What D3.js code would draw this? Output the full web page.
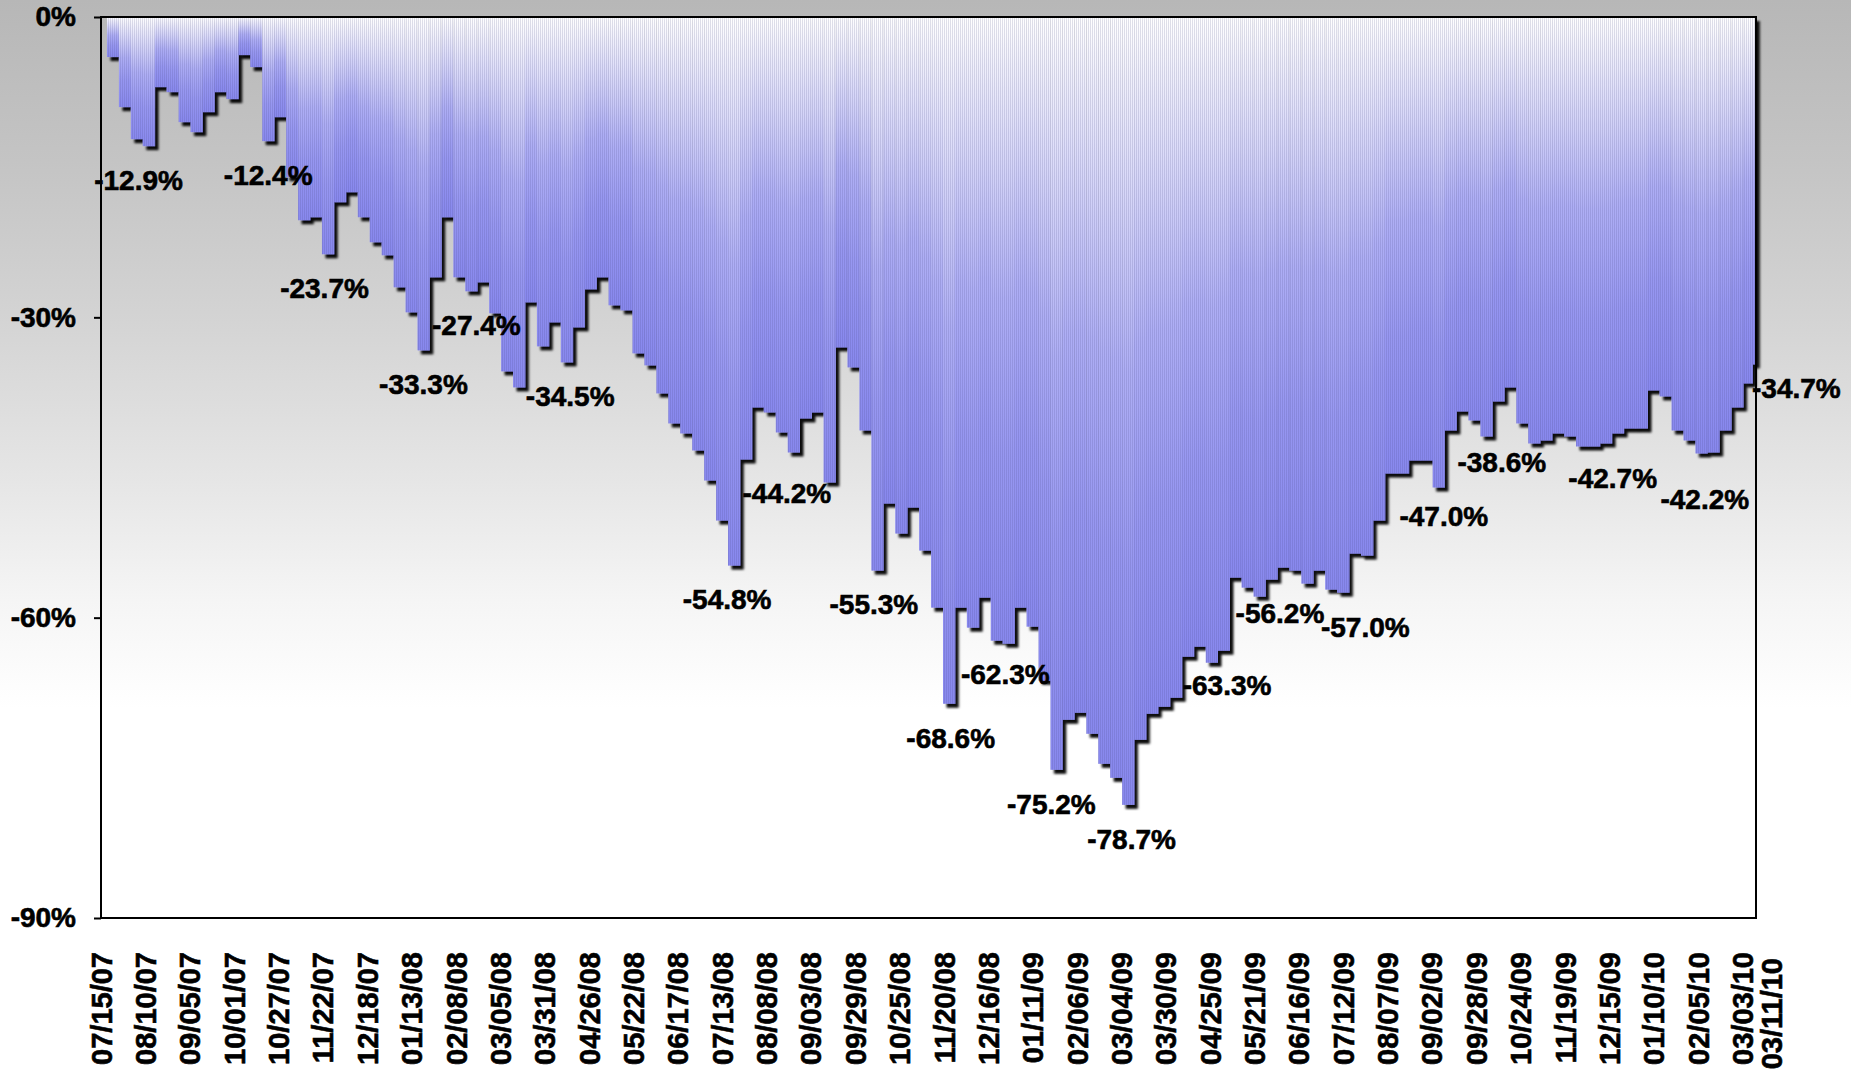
<!DOCTYPE html>
<html><head><meta charset="utf-8">
<script src="https://cdn.jsdelivr.net/npm/d3@7"></script>
<style>
html,body{margin:0;padding:0;background:#fff;}
svg{display:block;}
text{font-family:"Liberation Sans",Arial,sans-serif;font-weight:bold;fill:#000;}
</style>
</head><body>
<svg id="chart" width="1851" height="1073"></svg>
<script>
// Weekly drawdown readings (Sundays), from 07/15/07 to 03/11/10
const dates = [
"2007-07-15","2007-07-22","2007-07-29","2007-08-05","2007-08-12","2007-08-19","2007-08-26",
"2007-09-02","2007-09-09","2007-09-16","2007-09-23","2007-09-30","2007-10-07","2007-10-14","2007-10-21","2007-10-28",
"2007-11-04","2007-11-11","2007-11-18","2007-11-25","2007-12-02","2007-12-09","2007-12-16","2007-12-23","2007-12-30",
"2008-01-06","2008-01-13","2008-01-20","2008-01-27","2008-02-03","2008-02-10","2008-02-17","2008-02-24",
"2008-03-02","2008-03-09","2008-03-16","2008-03-23","2008-03-30","2008-04-06","2008-04-13","2008-04-20","2008-04-27",
"2008-05-04","2008-05-11","2008-05-18","2008-05-25","2008-06-01","2008-06-08","2008-06-15","2008-06-22","2008-06-29",
"2008-07-06","2008-07-13","2008-07-20","2008-07-27","2008-08-03","2008-08-10","2008-08-17","2008-08-24","2008-08-31",
"2008-09-07","2008-09-14","2008-09-21","2008-09-28","2008-10-05","2008-10-12","2008-10-19","2008-10-26",
"2008-11-02","2008-11-09","2008-11-16","2008-11-23","2008-11-30","2008-12-07","2008-12-14","2008-12-21","2008-12-28",
"2009-01-04","2009-01-11","2009-01-18","2009-01-25","2009-02-01","2009-02-08","2009-02-15","2009-02-22",
"2009-03-01","2009-03-08","2009-03-15","2009-03-22","2009-03-29","2009-04-05","2009-04-12","2009-04-19","2009-04-26",
"2009-05-03","2009-05-10","2009-05-17","2009-05-24","2009-05-31","2009-06-07","2009-06-14","2009-06-21","2009-06-28",
"2009-07-05","2009-07-12","2009-07-19","2009-07-26","2009-08-02","2009-08-09","2009-08-16","2009-08-23","2009-08-30",
"2009-09-06","2009-09-13","2009-09-20","2009-09-27","2009-10-04","2009-10-11","2009-10-18","2009-10-25",
"2009-11-01","2009-11-08","2009-11-15","2009-11-22","2009-11-29","2009-12-06","2009-12-13","2009-12-20","2009-12-27",
"2010-01-03","2010-01-10","2010-01-17","2010-01-24","2010-01-31","2010-02-07","2010-02-14","2010-02-21","2010-02-28",
"2010-03-07","2010-03-11"
];
const drawdown = [
0,-4.0,-9.0,-12.2,-12.9,-7.0,-7.5,
-10.5,-11.5,-9.5,-7.5,-8.2,-3.8,-5.0,-12.4,-10.0,
-16.0,-20.3,-20.0,-23.7,-18.5,-17.5,-20.0,-22.5,-23.8,
-27.0,-29.5,-33.3,-26.0,-20.0,-26.0,-27.4,-26.5,
-29.6,-35.4,-37.0,-28.5,-32.9,-30.5,-34.5,-31.0,-27.2,
-26.0,-28.8,-29.3,-33.6,-34.8,-37.6,-40.6,-41.6,-43.3,
-46.3,-50.3,-54.8,-44.2,-39.0,-39.5,-41.5,-43.5,-40.1,
-39.5,-46.5,-33.0,-35.0,-41.3,-55.3,-48.6,-51.6,
-49.0,-53.3,-59.0,-68.6,-59.0,-61.0,-58.0,-62.3,-62.6,
-59.0,-60.9,-66.3,-75.2,-70.2,-69.5,-71.6,-74.6,
-76.0,-78.7,-72.2,-69.6,-68.9,-68.0,-63.9,-62.9,-64.5,
-63.3,-56.0,-57.0,-57.9,-56.2,-55.0,-55.3,-56.6,-55.3,
-57.2,-57.5,-53.6,-53.8,-50.3,-45.6,-45.6,-44.3,-44.3,
-47.0,-41.3,-39.4,-40.3,-41.9,-38.4,-37.0,-40.6,
-42.6,-42.3,-41.6,-41.9,-42.9,-42.9,-42.6,-41.6,-41.1,
-41.1,-37.3,-37.9,-41.3,-42.3,-43.6,-43.5,-41.3,-39.0,
-36.6,-34.7
];
const tickDates = [
"2007-07-15","2007-08-10","2007-09-05","2007-10-01","2007-10-27","2007-11-22","2007-12-18",
"2008-01-13","2008-02-08","2008-03-05","2008-03-31","2008-04-26","2008-05-22","2008-06-17",
"2008-07-13","2008-08-08","2008-09-03","2008-09-29","2008-10-25","2008-11-20","2008-12-16",
"2009-01-11","2009-02-06","2009-03-04","2009-03-30","2009-04-25","2009-05-21","2009-06-16",
"2009-07-12","2009-08-07","2009-09-02","2009-09-28","2009-10-24","2009-11-19","2009-12-15",
"2010-01-10","2010-02-05","2010-03-03","2010-03-11"
];
const yTicks = [0,-30,-60,-90];
// Annotated points: label text, date of the point, low value under which it sits
const labelTexts = ["-12.9%","-12.4%","-23.7%","-33.3%","-27.4%","-34.5%","-54.8%","-44.2%","-55.3%","-68.6%","-62.3%",
  "-75.2%","-78.7%","-63.3%","-56.2%","-57.0%","-47.0%","-38.6%","-42.7%","-42.2%","-34.7%"];
const labelDates = ["2007-08-06","2007-10-21","2007-11-23","2008-01-20","2008-02-20","2008-04-15","2008-07-16","2008-08-20",
  "2008-10-10","2008-11-24","2008-12-26","2009-01-22","2009-03-10","2009-05-05","2009-06-05","2009-07-25","2009-09-09",
  "2009-10-13","2009-12-17","2010-02-09","2010-03-11"];
const labelLows = [-12.9,-12.4,-23.7,-33.3,-27.4,-34.5,-54.8,-44.2,-55.3,-68.6,-62.3,-75.2,-78.7,-63.3,-56.2,-57.6,-46.5,
  -41.1,-42.7,-44.8,-34.2];

const parse = d3.timeParse("%Y-%m-%d");
const data = dates.map((d,i)=>({date:parse(d), v:drawdown[i]}));

const W = 1851, H = 1073;
const L = 101, R = 1756, T = 17, B = 918;
const svg = d3.select("#chart");
const defs = svg.append("defs");

const x = d3.scaleTime().domain([parse("2007-07-15"), parse("2010-03-11")]).range([L, R]);
const y = d3.scaleLinear().domain([-90, 0]).range([B, T]);

// background gradient
const bg = defs.append("linearGradient").attr("id","bg").attr("x1",0).attr("y1",0).attr("x2",0).attr("y2",1);
[[0,"#b7b7b7"],[0.15,"#c4c4c4"],[0.3,"#d4d4d4"],[0.45,"#e6e6e6"],[0.56,"#f5f5f5"],[0.66,"#ffffff"],[1,"#ffffff"]]
  .forEach(s=>bg.append("stop").attr("offset",s[0]).attr("stop-color",s[1]));
svg.append("rect").attr("width",W).attr("height",H).attr("fill","url(#bg)");

// bar gradient (per bar, top white -> bottom blue)
const bgBar = defs.append("linearGradient").attr("id","barGrad").attr("x1",0).attr("y1",0).attr("x2",0).attr("y2",1);
[[0,"#ffffff"],[0.08,"#f0f0fc"],[0.25,"#d2d2f8"],[0.45,"#aeaef5"],[0.7,"#9797f1"],[1,"#8888ee"]]
  .forEach(s=>bgBar.append("stop").attr("offset",s[0]).attr("stop-color",s[1]));

const f = defs.append("filter").attr("id","shadow").attr("x","-2%").attr("y","-2%").attr("width","104%").attr("height","106%");
f.append("feDropShadow").attr("dx",3.5).attr("dy",4).attr("stdDeviation",1.1)
  .attr("flood-color","#000").attr("flood-opacity",0.95);

const pat = defs.append("pattern").attr("id","stripes").attr("patternUnits","userSpaceOnUse")
  .attr("width",2).attr("height",20);
pat.append("rect").attr("x",0).attr("y",0).attr("width",0.7).attr("height",20).attr("fill","rgba(70,70,120,0.24)");

function span(i){
  const xi = x(data[i].date);
  const x0 = i===0 ? xi : (x(data[i-1].date)+xi)/2;
  const x1 = i===data.length-1 ? xi : (xi + x(data[i+1].date))/2;
  return [x0, x1];
}

const bars = svg.append("g").attr("filter","url(#shadow)");
bars.selectAll("rect").data(data).join("rect")
  .attr("x",(d,i)=>span(i)[0])
  .attr("width",(d,i)=>Math.max(0, span(i)[1]-span(i)[0]+0.3))
  .attr("y", y(0))
  .attr("height", d=>y(d.v)-y(0))
  .attr("fill","url(#barGrad)");

const clip = defs.append("clipPath").attr("id","barClip");
clip.selectAll("rect").data(data).join("rect")
  .attr("x",(d,i)=>span(i)[0])
  .attr("width",(d,i)=>Math.max(0, span(i)[1]-span(i)[0]+0.3))
  .attr("y", y(0))
  .attr("height", d=>y(d.v)-y(0));
svg.append("rect").attr("x",L).attr("y",T).attr("width",R-L).attr("height",B-T)
  .attr("fill","url(#stripes)").attr("clip-path","url(#barClip)");

// frame
svg.append("rect").attr("x",L).attr("y",T).attr("width",R-L).attr("height",B-T)
  .attr("fill","none").attr("stroke","#000").attr("stroke-width",2);

// y axis
const yAxis = svg.append("g").attr("transform",`translate(${L},0)`)
  .call(d3.axisLeft(y).tickValues(yTicks).tickFormat(d=>d+"%").tickSize(7).tickPadding(18));
yAxis.select(".domain").remove();
yAxis.selectAll("line").attr("stroke","#000").attr("stroke-width",2);
yAxis.selectAll("text").attr("font-size",28).attr("font-family","Liberation Sans, Arial, sans-serif")
  .attr("font-weight","bold").attr("fill","#000").attr("stroke","#000").attr("stroke-width",0.6);

// x axis
const xAxis = svg.append("g").attr("transform",`translate(0,${B})`)
  .call(d3.axisBottom(x).tickValues(tickDates.map(parse)).tickFormat(d3.timeFormat("%m/%d/%y")).tickSize(0));
xAxis.select(".domain").remove();
const nT = tickDates.length;
xAxis.selectAll("text")
  .attr("font-size",29).attr("font-family","Liberation Sans, Arial, sans-serif")
  .attr("font-weight","bold").attr("fill","#000").attr("stroke","#000").attr("stroke-width",0.6)
  .attr("text-anchor","end")
  .attr("transform","rotate(-90)")
  .attr("x",(d,i)=> i===nT-1 ? -40 : -34)
  .attr("y",(d,i)=> i===nT-1 ? 15 : 0)
  .attr("dy","0.35em");

// annotations
const last = labelTexts.length-1;
svg.append("g").selectAll("text").data(labelTexts).join("text")
  .attr("font-size",28).attr("stroke","#000").attr("stroke-width",0.6)
  .attr("text-anchor",(d,i)=> i===last ? "start" : "middle")
  .attr("x",(d,i)=> x(parse(labelDates[i])) + (i===last ? -4 : 0))
  .attr("y",(d,i)=> y(labelLows[i]) + (i===last ? 29 : 34))
  .attr("dy","0.35em")
  .text(d=>d);
</script>
</body></html>
